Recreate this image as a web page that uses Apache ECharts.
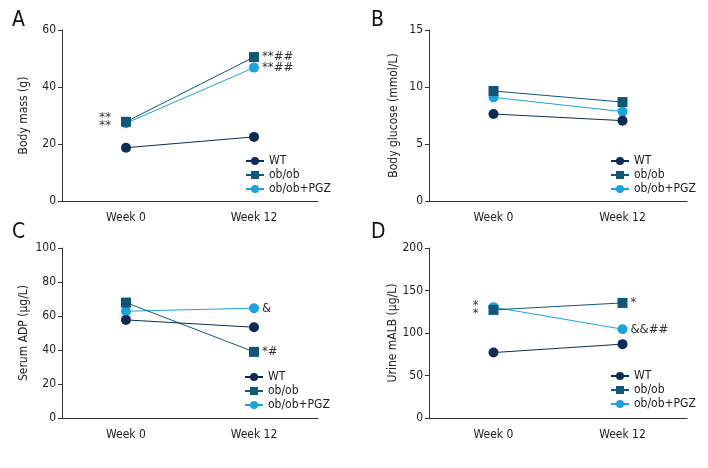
<!DOCTYPE html>
<html><head><meta charset="utf-8">
<script src="https://cdn.jsdelivr.net/npm/echarts@6/dist/echarts.min.js"></script>
<style>html,body{margin:0;padding:0;background:#fff}#c{width:708px;height:468px}</style>
</head><body><div id="c"></div>
<script>
var categories = ['Week 0', 'Week 12'];
var seriesNames = ['WT', 'ob/ob', 'ob/ob+PGZ'];
// Panel A: Body mass (g)
var massWT = [18.7, 22.5];
var massOb = [27.8, 50.5];
var massPGZ = [27.3, 46.8];
// Panel B: Body glucose (mmol/L)
var gluWT = [7.63, 7.05];
var gluOb = [9.65, 8.68];
var gluPGZ = [9.09, 7.84];
// Panel C: Serum ADP (μg/L)
var adpWT = [57.7, 53.4];
var adpOb = [67.9, 38.9];
var adpPGZ = [62.8, 64.6];
// Panel D: Urine mALB (μg/L)
var albWT = [77, 86.9];
var albOb = [127.2, 135.4];
var albPGZ = [130.4, 104.5];
// y-axis ranges
var yMax = [60, 15, 100, 200];
var yInterval = [20, 5, 20, 50];
var yNames = ['Body mass (g)', 'Body glucose (mmol/L)', 'Serum ADP (\u03bcg/L)', 'Urine mALB (\u03bcg/L)'];
var panelLetters = ['A', 'B', 'C', 'D'];
// significance annotations [seriesIndexInPanel, pointIndex, text, side]
var annA = [[1, 0, '**\n**', 'left'], [1, 1, '**##', 'right'], [2, 1, '**##', 'right']];
var annB = [];
var annC = [[2, 1, '&', 'right'], [1, 1, '*#', 'right']];
var annD = [[1, 0, '*\n*', 'left'], [1, 1, '*', 'right'], [2, 1, '&&##', 'right']];

var FONT = "'DejaVu Sans Condensed','Liberation Sans Narrow',sans-serif";
var colors = ['#0c2b57', '#0f5679', '#1ba3de'];
var symbols = ['circle', 'rect', 'circle'];
var grids = [
  {left: 62, top: 30, width: 256, height: 171},
  {left: 429, top: 30, width: 258, height: 171},
  {left: 62, top: 248, width: 256, height: 170},
  {left: 429, top: 248, width: 258, height: 170}
];
var panels = [[massWT, massOb, massPGZ], [gluWT, gluOb, gluPGZ], [adpWT, adpOb, adpPGZ], [albWT, albOb, albPGZ]];
var anns = [annA, annB, annC, annD];
var nameGaps = [32, 29, 32, 29];
var legendPos = [{left: 240, top: 150}, {left: 605, top: 150}, {left: 239, top: 366}, {left: 605, top: 365}];

var xAxis = [], yAxis = [], series = [], legend = [], graphic = [];
grids.forEach(function (g, i) {
  xAxis.push({
    type: 'category', gridIndex: i, data: categories, boundaryGap: true,
    axisLine: {lineStyle: {color: '#333', width: 1}},
    axisTick: {alignWithLabel: true, length: 4, lineStyle: {color: '#333'}},
    axisLabel: {color: '#222', fontSize: 12, fontFamily: FONT, margin: 11}
  });
  yAxis.push({
    type: 'value', gridIndex: i, min: 0, max: yMax[i], interval: yInterval[i],
    name: yNames[i], nameLocation: 'middle', nameGap: nameGaps[i], nameRotate: 90,
    nameTextStyle: {color: '#222', fontSize: 12, fontFamily: FONT},
    axisLine: {show: true, lineStyle: {color: '#333', width: 1}},
    axisTick: {show: true, length: 4, lineStyle: {color: '#333'}},
    axisLabel: {color: '#222', fontSize: 12, fontFamily: FONT, margin: 6},
    splitLine: {show: false}
  });
  panels[i].forEach(function (vals, s) {
    var data = vals.map(function (v, k) {
      var item = {value: v};
      anns[i].forEach(function (a) {
        if (a[0] === s && a[1] === k) {
          item.label = {show: true, formatter: a[2], position: a[3], distance: a[3] === 'left' ? 10 : 3,
            color: '#333', fontSize: 13, fontFamily: FONT, lineHeight: 8};
        }
      });
      return item;
    });
    series.push({
      type: 'line', name: seriesNames[s], xAxisIndex: i, yAxisIndex: i, data: data,
      symbol: symbols[s], symbolSize: 10, z: 5 - s,
      itemStyle: {color: colors[s]}, lineStyle: {color: colors[s], width: 1},
      label: {show: false}, animation: false
    });
  });
  legend.push({
    orient: 'vertical', left: legendPos[i].left, top: legendPos[i].top,
    data: seriesNames, itemWidth: 18, itemHeight: 10, itemGap: 2,
    textStyle: {color: '#222', fontSize: 12, lineHeight: 11, fontFamily: FONT}, selectedMode: false
  });
});
var letterPos = [[12, 10], [371, 10], [12, 222], [371, 222]];
letterPos.forEach(function (p, i) {
  graphic.push({type: 'text', left: p[0], top: p[1],
    style: {text: panelLetters[i], fontSize: 21, fontFamily: FONT, fill: '#111'}});
});

var chart = echarts.init(document.getElementById('c'), null, {renderer: 'canvas'});
chart.setOption({
  animation: false,
  grid: grids, xAxis: xAxis, yAxis: yAxis, series: series, legend: legend, graphic: graphic
});
</script></body></html>
